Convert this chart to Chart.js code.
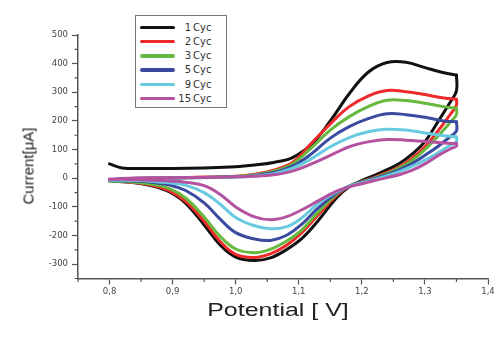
<!DOCTYPE html>
<html>
<head>
<meta charset="utf-8">
<script src="https://cdn.jsdelivr.net/npm/chart.js@4"></script>
<style>
  html, body { margin: 0; padding: 0; background: #fff; }
  #wrap { position: relative; width: 500px; height: 341px; background: #fff; overflow: hidden; }
  #c { position: absolute; left: 0; top: 0; }
  #legend { position: absolute; left: 135px; top: 15px; width: 92px; height: 93px; border: 1px solid #777; background: #fff; box-sizing: border-box; }
  .li { position: absolute; left: 0; height: 14px; width: 92px; font-family: "DejaVu Sans", sans-serif; font-size: 10px; color: #333; }
  .li .ln { position: absolute; left: 4px; top: 5px; width: 35px; height: 3.5px; border-radius: 2px; }
  .li .num { position: absolute; right: 37px; top: 0; line-height: 14px; text-align: right; }
  .li .txt { position: absolute; left: 57px; top: 0; line-height: 14px; }
  #xtitle { position: absolute; left: 178px; width: 200px; top: 299px; text-align: center; font-family: "Liberation Sans", Arial, sans-serif; font-size: 18.5px; color: #222; transform: scaleX(1.35); transform-origin: 100px 50%; white-space: nowrap; }
  #ytitle { position: absolute; left: 27.5px; top: 165.5px; width: 0; height: 0; }
  #ytitle span { position: absolute; left: 0; top: 0; transform: translate(-50%, -50%) rotate(-90deg); font-family: "Liberation Sans", Arial, sans-serif; font-size: 15px; color: #222; white-space: nowrap; }
</style>
</head>
<body>
<div id="wrap">
  <canvas id="c" width="500" height="341"></canvas>
  <div id="legend"></div>
  <div id="xtitle">Potential [ V]</div>
  <div id="ytitle"><span>Current[μA]</span></div>
</div>
<script>
// ---------------- DATA ----------------
const cycleLabels = ['1 Cyc', '2 Cyc', '3 Cyc', '5 Cyc', '9 Cyc', '15 Cyc'];
const cycleColors = ['#111111', '#ee2a2a', '#66b93e', '#3a4a9f', '#68cade', '#b4529f'];

// potential grids (V): anodic sweep, then cathodic sweep back
const forwardPotential = [0.80, 0.82, 0.85, 0.90, 0.95, 1.00, 1.03, 1.06, 1.09, 1.12, 1.15, 1.18, 1.21, 1.24, 1.27, 1.30, 1.33, 1.35];
const reversePotential = [1.35, 1.34, 1.32, 1.30, 1.28, 1.26, 1.24, 1.22, 1.20, 1.18, 1.16, 1.13, 1.105, 1.08, 1.055, 1.03, 1.00, 0.975, 0.95, 0.92, 0.895, 0.87, 0.84, 0.80];

// currents (µA)
const cyc1Forward  = [50, 36, 34, 34, 36, 40, 46, 55, 72, 118, 200, 295, 370, 404, 405, 386, 368, 360];
const cyc1Reverse  = [305, 265, 195, 128, 85, 52, 30, 10, -8, -30, -68, -150, -210, -250, -278, -287, -275, -232, -163, -86, -48, -28, -16, -10];

const cyc2Forward  = [-8, -3, 0, 2, 4, 7, 14, 28, 55, 122, 190, 250, 287, 306, 302, 292, 280, 276];
const cyc2Reverse  = [255, 222, 163, 110, 70, 40, 20, 3, -12, -28, -60, -130, -190, -235, -264, -277, -266, -220, -150, -80, -44, -26, -15, -8];

const cyc3Forward  = [-10, -4, -1, 1, 3, 6, 12, 25, 50, 106, 168, 215, 250, 272, 271, 262, 250, 244];
const cyc3Reverse  = [222, 195, 145, 100, 63, 36, 17, 1, -13, -27, -55, -120, -180, -220, -248, -260, -247, -202, -135, -68, -36, -22, -14, -10];

const cyc5Forward  = [-8, -3, 0, 1, 3, 5, 10, 20, 42, 85, 140, 180, 208, 225, 222, 213, 200, 197];
const cyc5Reverse  = [165, 145, 110, 80, 52, 30, 13, -1, -14, -28, -52, -105, -160, -200, -217, -212, -190, -142, -86, -42, -24, -15, -10, -8];

const cyc9Forward  = [-7, -2, 0, 1, 2, 4, 8, 16, 35, 68, 110, 142, 162, 171, 168, 158, 148, 145];
const cyc9Reverse  = [128, 115, 88, 63, 42, 24, 9, -4, -16, -28, -48, -90, -138, -170, -176, -166, -137, -90, -50, -24, -16, -11, -8, -7];

const cyc15Forward = [-5, -1, 1, 2, 3, 5, 7, 12, 25, 50, 80, 110, 127, 135, 133, 128, 123, 121];
const cyc15Reverse = [112, 102, 78, 50, 28, 13, 2, -8, -19, -30, -45, -80, -110, -135, -145, -135, -100, -56, -26, -14, -10, -7, -5, -3];

// axis ticks
const xTickValues = [0.8, 0.9, 1.0, 1.1, 1.2, 1.3, 1.4];
const xTickLabels = ['0,8', '0,9', '1,0', '1,1', '1,2', '1,3', '1,4'];
const xMinorTickValues = [0.75, 0.85, 0.95, 1.05, 1.15, 1.25, 1.35];
const yTickValues = [-300, -200, -100, 0, 100, 200, 300, 400, 500];
const yTickLabels = ['-300', '-200', '-100', '0', '100', '200', '300', '400', '500'];
const yMinorTickValues = [-350, -250, -150, -50, 50, 150, 250, 350, 450];

// ---------------- BUILD ----------------
const forwardSets = [cyc1Forward, cyc2Forward, cyc3Forward, cyc5Forward, cyc9Forward, cyc15Forward];
const reverseSets = [cyc1Reverse, cyc2Reverse, cyc3Reverse, cyc5Reverse, cyc9Reverse, cyc15Reverse];

const datasets = [];
cycleLabels.forEach((lab, k) => {
  const fwd = forwardSets[k], rev = reverseSets[k];
  const common = {
    borderColor: cycleColors[k],
    backgroundColor: cycleColors[k],
    borderWidth: 3,
    pointRadius: 0,
    showLine: true,
    fill: false,
    tension: 0.4,
    borderJoinStyle: 'round',
    borderCapStyle: 'round',
    order: cycleLabels.length - k
  };
  // anodic sweep
  datasets.push(Object.assign({ label: lab,
    data: forwardPotential.map((v, i) => ({ x: v, y: fwd[i] })) }, common));
  // cathodic sweep, starting from the end of the anodic sweep (vertical drop at the switching potential)
  datasets.push(Object.assign({ label: lab + ' (reverse)',
    data: [{ x: forwardPotential[forwardPotential.length - 1], y: fwd[fwd.length - 1] }]
      .concat(reversePotential.map((v, i) => ({ x: v, y: rev[i] }))) }, common));
});

// legend (HTML)
const legend = document.getElementById('legend');
cycleLabels.forEach((lab, k) => {
  const parts = lab.split(' ');
  const row = document.createElement('div');
  row.className = 'li';
  row.style.top = (4.5 + k * 14.25) + 'px';
  row.innerHTML = '<div class="ln" style="background:' + cycleColors[k] + '"></div>' +
    '<span class="num">' + parts[0] + '</span><span class="txt">' + parts.slice(1).join(' ') + '</span>';
  legend.appendChild(row);
});

const minorTicks = {
  id: 'minorTicks',
  afterDraw(chart) {
    const ctx = chart.ctx;
    const xs = chart.scales.x, ys = chart.scales.y;
    const area = chart.chartArea;
    ctx.save();
    ctx.strokeStyle = '#555';
    ctx.lineWidth = 1.2;
    ctx.beginPath();
    xMinorTickValues.forEach(v => {
      const p = xs.getPixelForValue(v);
      ctx.moveTo(p, area.bottom);
      ctx.lineTo(p, area.bottom + 3.5);
    });
    yMinorTickValues.forEach(v => {
      const p = ys.getPixelForValue(v);
      ctx.moveTo(area.left, p);
      ctx.lineTo(area.left - 3.5, p);
    });
    ctx.stroke();
    ctx.restore();
  }
};

const tickFont = { family: 'DejaVu Sans', size: 8.5 };

new Chart(document.getElementById('c'), {
  type: 'scatter',
  data: { datasets },
  plugins: [minorTicks],
  options: {
    responsive: false,
    animation: false,
    layout: { padding: { top: 35, right: 12, left: 0, bottom: 0 } },
    plugins: { legend: { display: false }, tooltip: { enabled: false } },
    scales: {
      x: {
        type: 'linear',
        position: 'bottom',
        min: 0.75,
        max: 1.4,
        afterBuildTicks(scale) { scale.ticks = xTickValues.map(v => ({ value: v })); },
        afterFit(scale) { scale.height = 62.5; },
        ticks: {
          font: tickFont,
          color: '#444',
          padding: 2,
          maxRotation: 0,
          autoSkip: false,
          callback: (v, i) => xTickLabels[i]
        },
        grid: { display: true, drawOnChartArea: false, drawTicks: true, tickLength: 6, tickColor: '#555', tickWidth: 1.2 },
        border: { display: true, color: '#555', width: 1.5 }
      },
      y: {
        type: 'linear',
        position: 'left',
        min: -350,
        max: 500,
        afterBuildTicks(scale) { scale.ticks = yTickValues.map(v => ({ value: v })); },
        afterFit(scale) { scale.width = 78; },
        ticks: {
          font: tickFont,
          color: '#444',
          padding: 4,
          autoSkip: false,
          callback: (v, i) => yTickLabels[i]
        },
        grid: { display: true, drawOnChartArea: false, drawTicks: true, tickLength: 6, tickColor: '#555', tickWidth: 1.2 },
        border: { display: true, color: '#555', width: 1.5 }
      }
    }
  }
});
</script>
</body>
</html>
